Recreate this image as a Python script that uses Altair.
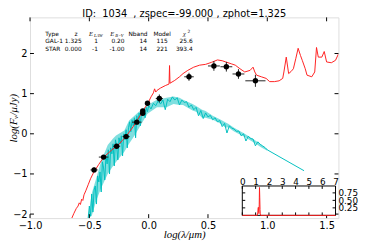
import altair as alt
import pandas as pd

# ---------------- data ----------------
title_text = "ID:\u00a0\u00a01034\u00a0\u00a0, zspec=-99.000 , zphot=1.325"

# observed photometry (log lambda, log flux) with errors
obs_logw = [-0.46, -0.38, -0.27, -0.19, -0.10, -0.05, -0.05, -0.01, 0.09, 0.34, 0.55, 0.655, 0.757, 0.90]
obs_logf = [-0.90, -0.58, -0.31, -0.07, 0.29, 0.51, 0.57, 0.76, 0.88, 1.42, 1.69, 1.67, 1.49, 1.32]
obs_xerr = [0.03, 0.04, 0.03, 0.03, 0.04, 0.02, 0.02, 0.02, 0.03, 0.04, 0.05, 0.05, 0.05, 0.085]
obs_yerr = [0.06, 0.05, 0.05, 0.05, 0.05, 0.05, 0.05, 0.04, 0.10, 0.10, 0.12, 0.12, 0.12, 0.15]

# best galaxy template (red)
gal_logw = [-0.655, -0.630, -0.610, -0.595, -0.585, -0.575, -0.565, -0.555, -0.545, -0.530,
            -0.510, -0.490, -0.470, -0.455, -0.420, -0.390, -0.370, -0.340, -0.310, -0.280,
            -0.250, -0.220, -0.190, -0.160, -0.130, -0.100, -0.070, -0.040, -0.020, 0.000,
            0.020, 0.040, 0.050, 0.060, 0.070, 0.100, 0.140, 0.172, 0.176, 0.180,
            0.220, 0.260, 0.290, 0.330, 0.380, 0.430, 0.480, 0.530, 0.580, 0.620,
            0.650, 0.700, 0.730, 0.770, 0.810, 0.855, 0.880, 0.895, 0.910, 0.950,
            0.990, 1.020, 1.060, 1.100, 1.130, 1.140, 1.160, 1.180, 1.200, 1.220,
            1.240, 1.260, 1.280, 1.295, 1.320, 1.335, 1.375, 1.400, 1.415, 1.430,
            1.460, 1.480, 1.500, 1.540, 1.575, 1.600]
gal_logf = [-2.15, -1.98, -1.86, -1.80, -1.72, -1.76, -1.63, -1.66, -1.52, -1.42,
            -1.27, -1.12, -1.00, -0.92, -0.76, -0.63, -0.56, -0.48, -0.40, -0.33,
            -0.26, -0.16, -0.07, 0.06, 0.18, 0.32, 0.46, 0.61, 0.70, 0.80,
            0.92, 1.02, 1.12, 1.04, 1.08, 1.14, 1.20, 1.24, 1.70, 1.26,
            1.33, 1.42, 1.50, 1.58, 1.66, 1.71, 1.73, 1.78, 1.84, 1.82,
            1.79, 1.74, 1.71, 1.62, 1.54, 1.58, 1.66, 1.54, 1.46, 1.42,
            1.38, 1.30, 1.30, 1.32, 1.38, 1.54, 1.91, 1.50, 1.55, 1.62,
            1.87, 2.13, 1.95, 1.83, 1.62, 1.46, 1.42, 1.54, 2.15, 1.91,
            1.91, 2.05, 1.79, 1.77, 1.83, 1.99]

# best star template (cyan): spectrum with absorption spikes
star_logw = [-0.51, -0.50, -0.49, -0.48, -0.47, -0.46, -0.45, -0.44, -0.43, -0.42,
             -0.41, -0.40, -0.39, -0.38, -0.37, -0.36, -0.35, -0.34, -0.33, -0.32,
             -0.31, -0.30, -0.29, -0.28, -0.27, -0.26, -0.25, -0.24, -0.23, -0.22,
             -0.21, -0.20, -0.19, -0.18, -0.17, -0.16, -0.15, -0.14, -0.13, -0.12,
             -0.11, -0.10, -0.09, -0.08, -0.07, -0.06, -0.05, -0.04, -0.03, -0.02,
             -0.01,
             0.00, 0.02, 0.04, 0.06, 0.08, 0.10, 0.12, 0.14, 0.16, 0.18,
             0.20, 0.22, 0.24, 0.26, 0.28, 0.30, 0.32, 0.34, 0.36, 0.38,
             0.40, 0.42, 0.44, 0.46, 0.48, 0.50, 0.52, 0.54, 0.56, 0.58,
             0.60, 0.62, 0.64, 0.66, 0.68, 0.70, 0.72, 0.74, 0.76, 0.78,
             0.80, 0.82, 0.84, 0.86, 0.88, 0.90, 0.92, 0.94, 0.96, 0.98,
             1.00, 1.31]
star_logf = [-2.10, -1.80, -2.05, -1.50, -1.95, -1.40, -1.30, -1.75, -1.05, -1.20,
             -0.95, -1.45, -0.70, -0.85, -1.15, -0.55, -0.75, -0.40, -1.00, -0.35,
             -0.50, -0.25, -0.80, -0.15, -0.30, -0.65, -0.10, -0.25, -0.05, -0.55,
             0.00, -0.15, 0.10, -0.35, 0.15, 0.30, 0.05, 0.35, 0.20, 0.40,
             -0.10, 0.45, 0.30, 0.52, 0.20, 0.56, 0.45, 0.62, 0.40, 0.66,
             0.55,
             0.70, 0.62, 0.76, 0.70, 0.82, 0.74, 0.84, 0.60, 0.86, 0.80,
             0.92, 0.84, 0.90, 0.72, 0.84, 0.78, 0.80, 0.66, 0.72, 0.60,
             0.66, 0.45, 0.58, 0.38, 0.52, 0.42, 0.46, 0.35, 0.40, 0.30,
             0.33, 0.18, 0.26, 0.02, 0.20, 0.14, 0.12, 0.06, 0.07, -0.05,
             0.00, -0.18, -0.06, -0.12, -0.13, -0.30, -0.20, -0.26, -0.30, -0.34,
             -0.40, -0.92]
# envelope of the dense absorption forest of the star spectrum
env_logw = [-0.51, -0.48, -0.44, -0.40, -0.345, -0.30, -0.275, -0.205, -0.165, -0.12,
            -0.09, -0.05, -0.01, 0.07, 0.15, 0.21, 0.26, 0.29, 0.37, 0.40,
            0.45, 0.48, 0.54, 0.60, 0.65, 0.67, 0.72, 0.81, 0.90, 0.95, 1.00]
env_hi = [-2.10, -1.49, -1.09, -0.68, -0.28, -0.12, -0.04, 0.08, 0.33, 0.45,
          0.53, 0.62, 0.72, 0.85, 0.90, 0.93, 0.90, 0.85, 0.74, 0.69,
          0.60, 0.57, 0.45, 0.36, 0.28, 0.25, 0.15, 0.00, -0.17, -0.28, -0.38]
env_lo = [-2.10, -2.05, -1.65, -1.35, -1.00, -0.80, -0.70, -0.45, -0.25, -0.05,
          0.10, 0.30, 0.50, 0.66, 0.66, 0.74, 0.72, 0.72, 0.58, 0.55,
          0.40, 0.40, 0.35, 0.26, 0.15, 0.16, 0.06, -0.08, -0.24, -0.34, -0.42]

# redshift probability (inset)
pdf_z = [0.00, 1.12, 1.16, 1.19, 1.21, 1.23, 1.25, 1.27, 1.29, 1.31, 1.33, 1.35, 1.37, 1.40, 7.00]
pdf_p = [0.00, 0.00, 0.08, 0.25, 0.27, 0.10, 0.06, 0.35, 0.93, 0.60, 0.20, 0.05, 0.00, 0.00, 0.00]

# fit table
table_type = ["GAL-1", "STAR"]
table_z = ["1.325", "0.000"]
table_elaw = ["1", "-1"]
table_ebv = ["0.20", "-1.00"]
table_nband = ["14", "14"]
table_model = ["115", "221"]
table_chi2 = ["25.6", "393.4"]

x_ticks = [-1.0, -0.5, 0.0, 0.5, 1.0, 1.5]
y_ticks = [-2, -1, 0, 1, 2]
inset_x_ticks = [0, 1, 2, 3, 4, 5, 6, 7]
inset_y_ticks = [0.25, 0.50, 0.75]

# ---------------- layout ----------------
W, H = 315, 205
TOP_PAD = 7
XDOM = [-1.0, 1.6]
YDOM = [-2.1, 2.9]
IXDOM = [0, 7]
IYDOM = [0, 0.98]
IX_RANGE = [216.8, 312.0]
IY_RANGE = [202.2, 172.2]
TICK_PX = 4
TLX = TICK_PX / W * (XDOM[1] - XDOM[0])
TLY = TICK_PX / H * (YDOM[1] - YDOM[0])
ITLX = 3 / (IX_RANGE[1] - IX_RANGE[0]) * (IXDOM[1] - IXDOM[0])
ITLY = 3 / (IY_RANGE[0] - IY_RANGE[1]) * (IYDOM[1] - IYDOM[0])
RED = "#ff2020"
CYAN = "#00bfbf"
FONT = "DejaVu Sans"

XS = alt.Scale(domain=XDOM, nice=False, zero=False)
YS = alt.Scale(domain=YDOM, nice=False, zero=False)
XAX = alt.Axis(values=x_ticks, format=".1f", title="log(λ/μm)", ticks=False, tickSize=0,
               domain=False, grid=False, labelFlush=False, labelPadding=3, labelFontSize=10,
               labelFont=FONT, labelColor="black", titleFont="Liberation Serif",
               titleFontStyle="italic", titleFontWeight="normal", titleFontSize=11,
               titleColor="black", titleY=17, titleBaseline="middle")
YAX = alt.Axis(values=y_ticks, format="d", title="log(F\u1d65/μJy)", ticks=False, tickSize=0,
               domain=False, grid=False, labelFlush=False, labelPadding=3, labelFontSize=10,
               labelFont=FONT, labelColor="black", titleFont="Liberation Serif",
               titleFontStyle="italic", titleFontWeight="normal", titleFontSize=11,
               titleColor="black", titleAngle=270, titleX=-13.3, titleY=H / 2,
               titleBaseline="alphabetic", titleAlign="center")


def mx(field):
    return alt.X(field, type="quantitative", scale=XS, axis=XAX)


def my(field):
    return alt.Y(field, type="quantitative", scale=YS, axis=YAX)


gal_df = pd.DataFrame({"x": gal_logw, "y": gal_logf})
star_df = pd.DataFrame({"x": star_logw, "y": star_logf})
env_df = pd.DataFrame({"x": env_logw, "lo": env_lo, "hi": env_hi})
obs_df = pd.DataFrame({"x": obs_logw, "y": obs_logf, "xe": obs_xerr, "ye": obs_yerr})
obs_df["xlo"] = obs_df.x - obs_df.xe
obs_df["xhi"] = obs_df.x + obs_df.xe
obs_df["ylo"] = obs_df.y - obs_df.ye
obs_df["yhi"] = obs_df.y + obs_df.ye

gal_line = alt.Chart(gal_df).mark_line(color=RED, strokeWidth=1, clip=True).encode(
    x=mx("x"), y=my("y"), order="x:Q")
star_band = alt.Chart(env_df).mark_area(color=CYAN, fill=CYAN, fillOpacity=0.5, clip=True).encode(
    x=mx("x"), y=my("lo"), y2=alt.Y2("hi"))
star_line = alt.Chart(star_df).mark_line(color=CYAN, strokeWidth=1, clip=True).encode(
    x=mx("x"), y=my("y"), order="x:Q")
err_x = alt.Chart(obs_df).mark_rule(color="#222222", strokeWidth=1).encode(
    x=mx("xlo"), x2="xhi", y=my("y"))
err_y = alt.Chart(obs_df).mark_rule(color="#222222", strokeWidth=1).encode(
    x=mx("x"), y=my("ylo"), y2="yhi")
pts = alt.Chart(obs_df).mark_circle(color="black", size=30, opacity=1).encode(
    x=mx("x"), y=my("y"))

# inward ticks on all four sides
tick_rows = []
for v in x_ticks:
    tick_rows.append({"x": v, "x2": v, "y": YDOM[0], "y2": YDOM[0] + TLY})
    tick_rows.append({"x": v, "x2": v, "y": YDOM[1], "y2": YDOM[1] - TLY})
for v in y_ticks:
    tick_rows.append({"x": XDOM[0], "x2": XDOM[0] + TLX, "y": v, "y2": v})
    tick_rows.append({"x": XDOM[1], "x2": XDOM[1] - TLX, "y": v, "y2": v})
ticks = alt.Chart(pd.DataFrame(tick_rows)).mark_rule(color="black", strokeWidth=1).encode(
    x=mx("x"), x2="x2", y=my("y"), y2="y2")

# ---- fit table text ----
ROW_Y = [2.252, 2.067]
HEAD_Y = 2.446
TYPE_X = -0.871
COL_RIGHT_X = [-0.565, -0.428, -0.203, -0.015, 0.160, 0.371]


def text_layer(df, align, size=6, style="normal", font=FONT, dy=0):
    return alt.Chart(df).mark_text(align=align, baseline="alphabetic", fontSize=size,
                                   fontStyle=style, font=font, color="black", dy=dy).encode(
        x=mx("x"), y=my("y"), text="t:N")


left_df = pd.DataFrame({"x": [TYPE_X, TYPE_X], "y": ROW_Y, "t": table_type})
right_rows = []
for cx, col in zip(COL_RIGHT_X, [table_z, table_elaw, table_ebv, table_nband, table_model, table_chi2]):
    for ry, val in zip(ROW_Y, col):
        right_rows.append({"x": cx, "y": ry, "t": val})
right_df = pd.DataFrame(right_rows)

head_left = pd.DataFrame({"x": [TYPE_X], "y": [HEAD_Y], "t": ["Type"]})
head_center = pd.DataFrame({"x": [-0.613, 0.114], "y": [HEAD_Y, HEAD_Y], "t": ["z", "Model"]})
head_right = pd.DataFrame({"x": [-0.009], "y": [HEAD_Y], "t": ["Nband"]})
head_sym = pd.DataFrame({"x": [-0.502, -0.323, 0.290], "y": [HEAD_Y] * 3, "t": ["E", "E", "χ"]})
head_sub = pd.DataFrame({"x": [-0.461, -0.282], "y": [HEAD_Y] * 2, "t": ["LAW", "B−V"]})
head_sup = pd.DataFrame({"x": [0.327], "y": [HEAD_Y], "t": ["2"]})

table_layers = [
    text_layer(left_df, "left"),
    text_layer(right_df, "right"),
    text_layer(head_left, "left"),
    text_layer(head_center, "center"),
    text_layer(head_right, "right"),
    text_layer(head_sym, "left", size=6.5, style="italic", font="Liberation Serif"),
    text_layer(head_sub, "left", size=4.5, style="italic", font="Liberation Serif", dy=1.5),
    text_layer(head_sup, "left", size=4.5, dy=-3),
]

# chart title as a text mark sitting on the top frame
title_df = pd.DataFrame({"x": [(XDOM[0] + XDOM[1]) / 2], "y": [YDOM[1]], "t": [title_text]})
title_mark = alt.Chart(title_df).mark_text(align="center", baseline="alphabetic", fontSize=10,
                                           font=FONT, color="black", dy=-0.5).encode(
    x=mx("x"), y=my("y"), text="t:N")

main = alt.layer(star_band, star_line, gal_line, err_x, err_y, pts, ticks, title_mark,
                 *table_layers)

# ---------------- inset (redshift PDF) ----------------
IXS = alt.Scale(domain=IXDOM, range=IX_RANGE, nice=False, zero=False)
IYS = alt.Scale(domain=IYDOM, range=IY_RANGE, nice=False, zero=False)
IXAX = alt.Axis(orient="top", offset=-IY_RANGE[1], values=inset_x_ticks, format="d",
                ticks=False, tickSize=0, domain=False, grid=False, labelFlush=False,
                labelOverlap=False, labelPadding=-1, labelFontSize=9, labelFont=FONT,
                labelColor="black", title=None)
IYAX = alt.Axis(orient="right", offset=IX_RANGE[1] - W, values=inset_y_ticks, format=".2f",
                ticks=False, tickSize=0, domain=False, grid=False, labelFlush=False,
                labelOverlap=False, labelPadding=2.5, labelFontSize=9, labelFont=FONT,
                labelColor="black", title=None)


def ix(field):
    return alt.X(field, type="quantitative", scale=IXS, axis=IXAX)


def iy(field):
    return alt.Y(field, type="quantitative", scale=IYS, axis=IYAX)


box_df = pd.DataFrame({"x": [IXDOM[0]], "x2": [IXDOM[1]], "y": [IYDOM[0]], "y2": [IYDOM[1]]})
box = alt.Chart(box_df).mark_rect(fill="white", stroke="black", strokeWidth=1).encode(
    x=ix("x"), x2="x2", y=iy("y"), y2="y2")

itick_rows = []
for v in inset_x_ticks:
    itick_rows.append({"x": v, "x2": v, "y": IYDOM[1], "y2": IYDOM[1] - ITLY})
    itick_rows.append({"x": v, "x2": v, "y": IYDOM[0], "y2": IYDOM[0] + ITLY})
for v in inset_y_ticks:
    itick_rows.append({"x": IXDOM[0], "x2": IXDOM[0] + ITLX, "y": v, "y2": v})
    itick_rows.append({"x": IXDOM[1], "x2": IXDOM[1] - ITLX, "y": v, "y2": v})
iticks = alt.Chart(pd.DataFrame(itick_rows)).mark_rule(color="black", strokeWidth=1).encode(
    x=ix("x"), x2="x2", y=iy("y"), y2="y2")

pdf_df = pd.DataFrame({"x": pdf_z, "y": pdf_p})
pdf_line = alt.Chart(pdf_df).mark_line(color=RED, strokeWidth=1).encode(
    x=ix("x"), y=iy("y"), order="x:Q")

inset = alt.layer(box, iticks, pdf_line)

chart = alt.layer(main, inset).resolve_scale(x="independent", y="independent").properties(
    width=W, height=H,
    autosize=alt.AutoSizeParams(type="none"),
    padding={"left": 22.5, "top": TOP_PAD, "right": 22, "bottom": 30},
).configure_view(stroke="black", strokeWidth=1).configure(background="white")

chart.save("out.html", embed_options={"renderer": "svg", "actions": False})
